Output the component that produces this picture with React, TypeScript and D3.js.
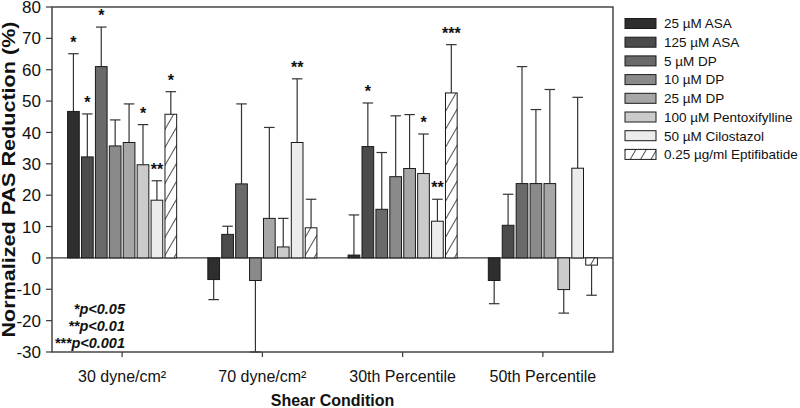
import React from "react";
import * as d3 from "d3";

const categories = ["30 dyne/cm²", "70 dyne/cm²", "30th Percentile", "50th Percentile"];
const seriesNames = [
  "25 µM ASA",
  "125 µM ASA",
  "5 µM DP",
  "10 µM DP",
  "25 µM DP",
  "100 µM Pentoxifylline",
  "50 µM Cilostazol",
  "0.25 µg/ml Eptifibatide",
];
const seriesColors = ["#2e2e2e", "#4b4b4b", "#6a6a6a", "#8a8a8a", "#a7a7a7", "#cbcbcb", "#ececec", "url(#hatch)"];

// means per series, one per category
const asa25 = [46.7, -6.9, 0.9, -7.2];
const asa125 = [32.2, 7.5, 35.5, 10.4];
const dp5 = [61.0, 23.6, 15.5, 23.7];
const dp10 = [35.7, -7.2, 25.9, 23.7];
const dp25 = [36.8, 12.6, 28.5, 23.7];
const pentox = [29.7, 3.5, 26.9, -10.1];
const cilost = [18.4, 36.8, 11.7, 28.6];
const eptif = [45.8, 9.6, 52.6, -2.3];

// error magnitudes
const asa25Err = [18.4, 6.4, 12.8, 7.4];
const asa125Err = [13.7, 2.6, 13.9, 9.9];
const dp5Err = [12.6, 25.5, 18.1, 37.3];
const dp10Err = [8.3, 22.8, 19.4, 23.6];
const dp25Err = [12.3, 29.0, 17.2, 30.0];
const pentoxErr = [12.8, 9.1, 12.6, 7.5];
const cilostErr = [6.2, 20.3, 7.0, 22.6];
const eptifErr = [7.2, 9.1, 15.4, 9.6];

// significance markers
const asa25Sig = ["*", "", "", ""];
const asa125Sig = ["*", "", "*", ""];
const dp5Sig = ["*", "", "", ""];
const dp10Sig = ["", "", "", ""];
const dp25Sig = ["", "", "", ""];
const pentoxSig = ["*", "", "*", ""];
const cilostSig = ["**", "**", "**", ""];
const eptifSig = ["*", "", "***", ""];

const yTicks = [-30, -20, -10, 0, 10, 20, 30, 40, 50, 60, 70, 80];
const pLegend = ["*p<0.05", "**p<0.01", "***p<0.001"];

const values = [asa25, asa125, dp5, dp10, dp25, pentox, cilost, eptif];
const errors = [asa25Err, asa125Err, dp5Err, dp10Err, dp25Err, pentoxErr, cilostErr, eptifErr];
const sigs = [asa25Sig, asa125Sig, dp5Sig, dp10Sig, dp25Sig, pentoxSig, cilostSig, eptifSig];

const FONT = "'Liberation Sans', Arial, Helvetica, sans-serif";

export default function App() {
  const W = 800;
  const H = 408;
  const left = 52;
  const right = 613;
  const top = 7;
  const bottom = 352;

  const x0 = d3.scaleBand<string>().domain(categories).range([left, right]).padding(0);
  const x1 = d3
    .scaleBand<string>()
    .domain(seriesNames)
    .range([0, x0.bandwidth()])
    .paddingInner(0.16)
    .paddingOuter(1.12);
  const y = d3.scaleLinear().domain([-30, 80]).range([bottom, top]);
  const bw = x1.bandwidth();
  const capHalf = bw * 0.45;
  const axisColor = "#3a3a3a";

  const legendX = 625;
  const legendY0 = 18.5;
  const legendStep = 18.7;

  return (
    <svg width={W} height={H} style={{ position: "absolute", left: 0, top: 0, background: "#fff" }}>
      <defs>
        <pattern id="hatch" patternUnits="userSpaceOnUse" width={9} height={9} patternTransform="rotate(30)">
          <rect width={9} height={9} fill="#fff" />
          <line x1={0} y1={-1} x2={0} y2={10} stroke="#222" strokeWidth={1.6} />
        </pattern>
      </defs>

      {/* zero line */}
      <line x1={left} x2={right} y1={y(0)} y2={y(0)} stroke={axisColor} strokeWidth={1.2} />

      {/* bars */}
      {categories.map((cat, ci) => (
        <g key={cat} transform={`translate(${x0(cat)},0)`}>
          {seriesNames.map((s, si) => {
            const v = values[si][ci];
            const e = errors[si][ci];
            const bx = x1(s)!;
            const cx = bx + bw / 2;
            const y0 = y(0);
            const yv = y(v);
            const errEnd = v >= 0 ? y(v + e) : y(v - e);
            const sig = sigs[si][ci];
            return (
              <g key={s}>
                <line x1={cx} x2={cx} y1={yv} y2={errEnd} stroke="#333" strokeWidth={1.2} />
                <line x1={cx - capHalf} x2={cx + capHalf} y1={errEnd} y2={errEnd} stroke="#333" strokeWidth={1.2} />
                <rect
                  x={bx}
                  y={Math.min(yv, y0)}
                  width={bw}
                  height={Math.abs(y0 - yv)}
                  fill={seriesColors[si]}
                  stroke="#1a1a1a"
                  strokeWidth={1}
                />
                {sig && (
                  <text
                    x={cx}
                    y={errEnd - 6}
                    textAnchor="middle"
                    fontFamily={FONT}
                    fontWeight="bold"
                    fontSize={16}
                    fill="#111"
                  >
                    {sig}
                  </text>
                )}
              </g>
            );
          })}
        </g>
      ))}

      {/* frame */}
      <rect x={left} y={top} width={right - left} height={bottom - top} fill="none" stroke={axisColor} strokeWidth={1.4} />

      {/* y axis ticks */}
      {yTicks.map((t) => (
        <g key={t}>
          <line x1={left - 6} x2={left} y1={y(t)} y2={y(t)} stroke={axisColor} strokeWidth={1.2} />
          <text x={41} y={y(t)} dy="0.36em" textAnchor="end" fontFamily={FONT} fontSize={17} fill="#111">
            {t}
          </text>
        </g>
      ))}

      {/* x axis ticks */}
      {categories.map((cat) => {
        const cx = x0(cat)! + x0.bandwidth() / 2;
        return (
          <g key={cat}>
            <line x1={cx} x2={cx} y1={bottom} y2={bottom + 5} stroke={axisColor} strokeWidth={1.2} />
            <text x={cx} y={381.5} textAnchor="middle" fontFamily={FONT} fontSize={16} fill="#111">
              {cat}
            </text>
          </g>
        );
      })}

      {/* axis titles */}
      <text
        x={(left + right) / 2}
        y={406}
        textAnchor="middle"
        fontFamily={FONT}
        fontWeight="bold"
        fontSize={16}
        fill="#111"
      >
        Shear Condition
      </text>
      <text
        transform={`translate(15,${(top + bottom) / 2}) rotate(-90)`}
        textAnchor="middle"
        fontFamily={FONT}
        fontWeight="bold"
        fontSize={17.5}
        textLength={316}
        lengthAdjust="spacingAndGlyphs"
        fill="#111"
      >
        Normalized PAS Reduction (%)
      </text>

      {/* p-value legend */}
      {pLegend.map((p, i) => (
        <text
          key={p}
          x={125}
          y={314 + i * 16.8}
          textAnchor="end"
          fontFamily={FONT}
          fontWeight="bold"
          fontStyle="italic"
          fontSize={14.5}
          fill="#111"
        >
          {p}
        </text>
      ))}

      {/* series legend */}
      {seriesNames.map((s, i) => (
        <g key={s} transform={`translate(${legendX},${legendY0 + i * legendStep})`}>
          <rect x={0} y={0} width={31} height={10} fill={seriesColors[i]} stroke="#1a1a1a" strokeWidth={1} />
          <text x={39} y={5} dy="0.36em" fontFamily={FONT} fontSize={13.5} fill="#111">
            {s}
          </text>
        </g>
      ))}
    </svg>
  );
}
